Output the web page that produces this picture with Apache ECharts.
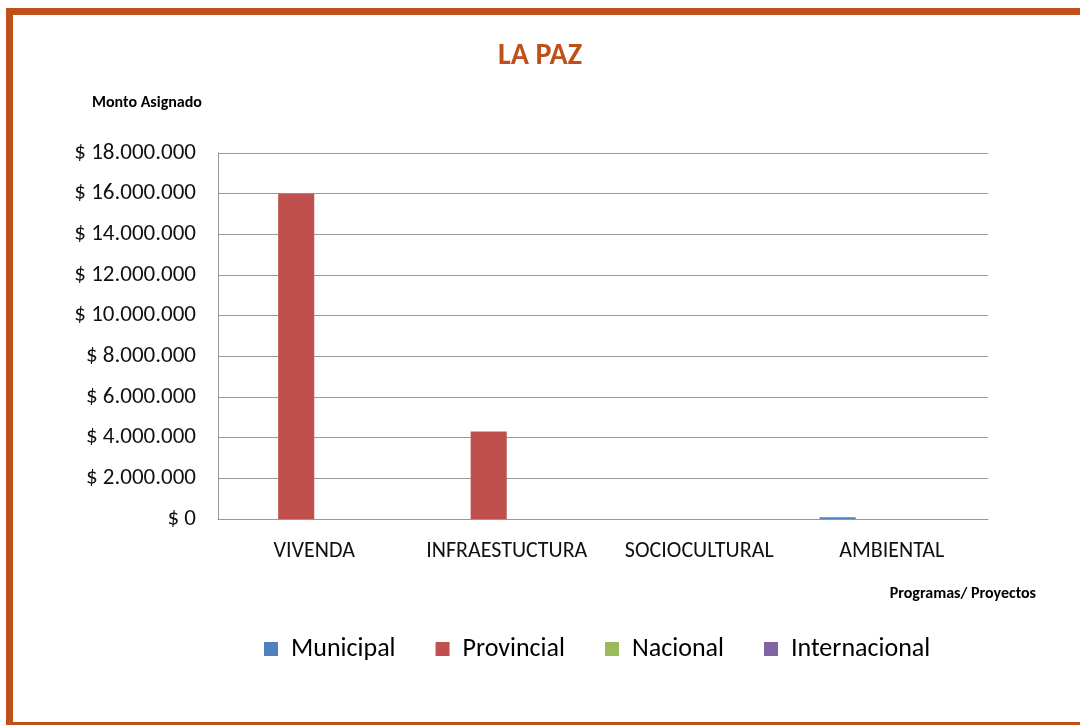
<!DOCTYPE html>
<html>
<head>
<meta charset="utf-8">
<script src="https://cdn.jsdelivr.net/npm/echarts@6/dist/echarts.min.js"></script>
<style>
  html, body { margin: 0; padding: 0; background: #fff; }
  #chart { width: 1080px; height: 725px; }
</style>
</head>
<body>
<div id="chart"></div>
<script>
// datos
var categorias = ['VIVENDA', 'INFRAESTUCTURA', 'SOCIOCULTURAL', 'AMBIENTAL'];
var municipal = [0, 0, 0, 80000];
var provincial = [16000000, 4300000, 0, 0];
var nacional = [0, 0, 0, 0];
var internacional = [0, 0, 0, 0];
var nombresSeries = ['Municipal', 'Provincial', 'Nacional', 'Internacional'];
var colores = ['#4F81BD', '#C0504D', '#9BBB59', '#8064A2'];

var fuente = 'Carlito, Lato, "Open Sans", sans-serif';

function formatoPesos(v) {
  var s = String(Math.round(v)).replace(/\B(?=(\d{3})+(?!\d))/g, '.');
  return '$ ' + s;
}

var valores = [municipal, provincial, nacional, internacional];
var series = [];
for (var i = 0; i < nombresSeries.length; i++) {
  series.push({
    name: nombresSeries[i],
    type: 'bar',
    data: valores[i],
    barGap: '0%',
    barCategoryGap: '25%',
    itemStyle: { color: colores[i] }
  });
}

var chart = echarts.init(document.getElementById('chart'));

chart.setOption({
  backgroundColor: '#fff',
  color: colores,
  animation: false,
  textStyle: { fontFamily: fuente },
  title: {
    text: 'LA PAZ',
    left: 'center',
    top: 36,
    textStyle: { color: '#C0501A', fontSize: 30, fontWeight: 'bold', fontFamily: fuente }
  },
  graphic: [
    // marco naranja
    { type: 'rect', shape: { x: 6, y: 8, width: 1074, height: 7 }, style: { fill: '#C0501A' } },
    { type: 'rect', shape: { x: 6, y: 8, width: 7, height: 717 }, style: { fill: '#C0501A' } },
    { type: 'rect', shape: { x: 6, y: 722, width: 1074, height: 3 }, style: { fill: '#C0501A' } },
    { type: 'text', left: 92, top: 95, style: { text: 'Monto Asignado', font: 'bold 16px ' + fuente, fill: '#000' } },
    { type: 'text', right: 44, top: 586, style: { text: 'Programas/ Proyectos', font: 'bold 16px ' + fuente, fill: '#000' } }
  ],
  legend: {
    data: nombresSeries,
    left: 259,
    top: 631,
    icon: 'rect',
    itemWidth: 14,
    itemHeight: 14,
    itemGap: 40,
    textStyle: { fontSize: 26, color: '#000', fontFamily: fuente, padding: [0, 0, 0, 8] }
  },
  grid: { left: 218, right: 92, top: 153, bottom: 206, containLabel: false },
  xAxis: {
    type: 'category',
    data: categorias,
    axisLine: { lineStyle: { color: '#999' } },
    axisTick: { show: false },
    axisLabel: { interval: 0, hideOverlap: false, fontSize: 22, color: '#111', margin: 21, fontFamily: fuente }
  },
  yAxis: {
    type: 'value',
    min: 0,
    max: 18000000,
    interval: 2000000,
    axisLine: { show: true, lineStyle: { color: '#999' } },
    axisTick: { show: false },
    splitLine: { lineStyle: { color: '#999' } },
    axisLabel: { fontSize: 23, color: '#111', margin: 22, formatter: formatoPesos, fontFamily: fuente }
  },
  series: series
});
</script>
</body>
</html>
